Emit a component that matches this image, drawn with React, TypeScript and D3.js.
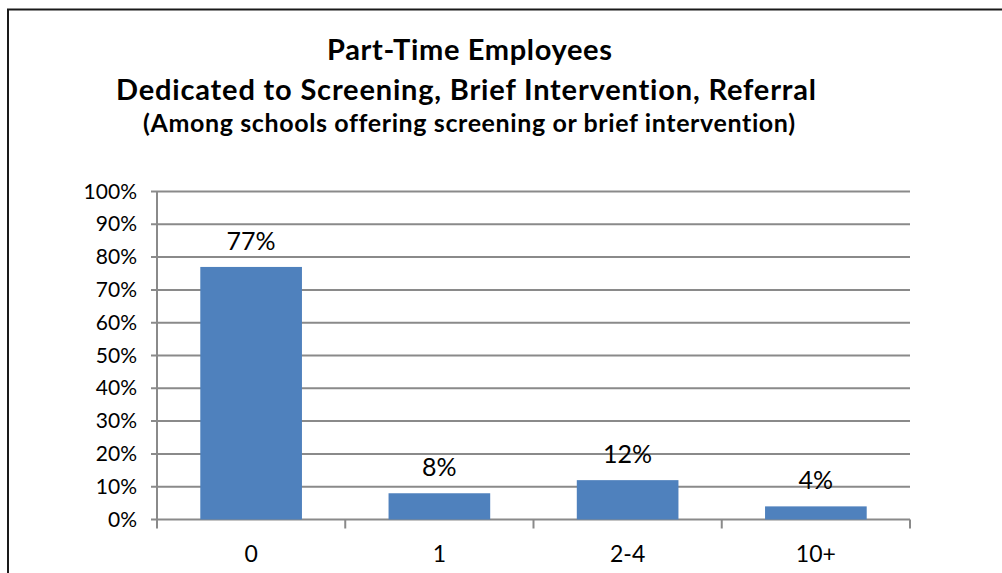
import React from "react";
import * as d3 from "d3";

const categories = ["0", "1", "2-4", "10+"];
const values = [77, 8, 12, 4];
const yTicks = [0, 10, 20, 30, 40, 50, 60, 70, 80, 90, 100];
const titleLines = [
  "Part-Time Employees",
  "Dedicated to Screening, Brief Intervention, Referral",
  "(Among schools offering screening or brief intervention)",
];

const W = 1002;
const H = 573;
const left = 157;
const right = 910;
const top = 191.5;
const bottom = 519.5;
const FONT = "Lato, 'Open Sans', sans-serif";
const GRID = "#8a8a8a";

export default function App() {
  const x = d3
    .scaleBand<string>()
    .domain(categories)
    .range([left, right])
    .paddingInner(0.46)
    .paddingOuter(0.23);
  const y = d3.scaleLinear().domain([0, 100]).range([bottom, top]);
  const step = x.step();
  const boundaries = d3.range(categories.length + 1).map((i) => left + i * step);

  return (
    <svg
      width={W}
      height={H}
      style={{ position: "absolute", left: 0, top: 0, background: "#fff", fontVariantLigatures: "none" }}
    >
      <rect x={0} y={0} width={W} height={H} fill="#fff" />
      <rect x={8} y={9.5} width={1010} height={600} fill="none" stroke="#1a1a1a" strokeWidth={2} />
      {/* title */}
      <g fontFamily={FONT} fontWeight="bold" fill="#000" textAnchor="middle">
        <text x={469.5} y={60} fontSize={29} textLength={285} lengthAdjust="spacing">{titleLines[0]}</text>
        <text x={466} y={99.5} fontSize={29} textLength={700} lengthAdjust="spacing">{titleLines[1]}</text>
        <text x={469} y={131.5} fontSize={25} textLength={652} lengthAdjust="spacing">{titleLines[2]}</text>
      </g>
      {/* gridlines */}
      {yTicks.map((t) => (
        <line key={t} x1={left - 6} x2={right} y1={y(t)} y2={y(t)} stroke={GRID} strokeWidth={2} />
      ))}
      {/* y axis */}
      <line x1={left} x2={left} y1={top} y2={bottom} stroke={GRID} strokeWidth={2} />
      {/* x ticks */}
      {boundaries.map((b, i) => (
        <line key={i} x1={b} x2={b} y1={bottom} y2={bottom + 9} stroke={GRID} strokeWidth={2} />
      ))}
      {/* y labels */}
      <g fontFamily={FONT} fontSize={21} fill="#000" textAnchor="end">
        {yTicks.map((t) => (
          <text key={t} x={137} y={y(t) + 7}>{t}%</text>
        ))}
      </g>
      {/* bars */}
      {values.map((v, i) => (
        <rect
          key={categories[i]}
          x={x(categories[i])}
          y={y(v)}
          width={x.bandwidth()}
          height={bottom - y(v)}
          fill="#4f81bd"
        />
      ))}
      {/* value labels */}
      <g fontFamily={FONT} fontSize={25} fill="#000" textAnchor="middle">
        {values.map((v, i) => (
          <text key={categories[i]} x={(x(categories[i]) as number) + x.bandwidth() / 2} y={y(v) - 17}>
            {v}%
          </text>
        ))}
      </g>
      {/* category labels */}
      <g fontFamily={FONT} fontSize={23} fill="#000" textAnchor="middle">
        {categories.map((c) => (
          <text key={c} x={(x(c) as number) + x.bandwidth() / 2} y={562}>{c}</text>
        ))}
      </g>
    </svg>
  );
}
